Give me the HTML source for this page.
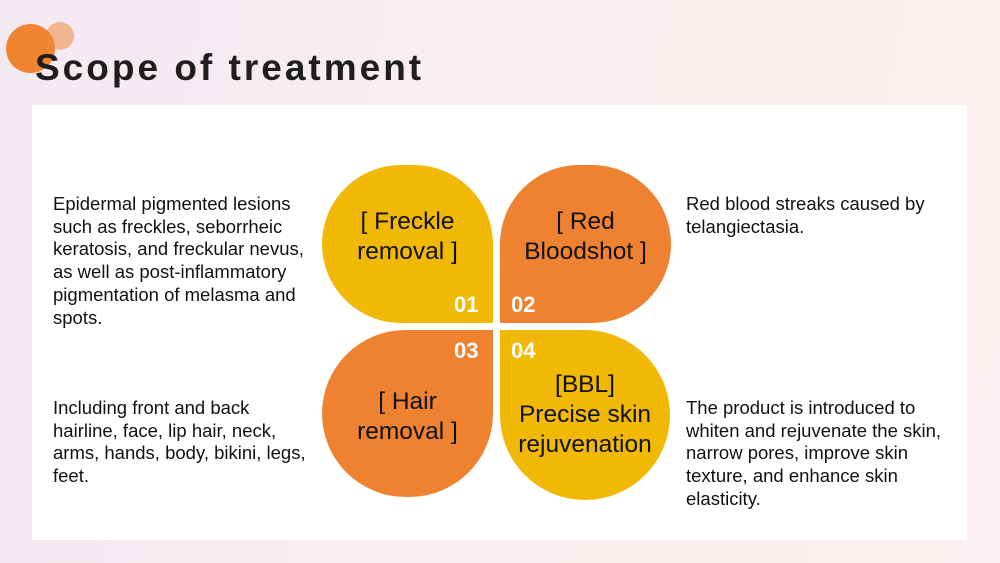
<!DOCTYPE html>
<html><head><meta charset="utf-8"><style>
*{margin:0;padding:0;box-sizing:border-box}
body{width:1000px;height:563px;overflow:hidden;position:relative;font-family:"Liberation Sans",Arial,sans-serif;
background:linear-gradient(100deg,#f3e9f1 0%,#f6eef2 40%,#f9eeee 65%,#f9f1f1 100%);}
.abs{position:absolute}
.c1{left:6px;top:24px;width:49px;height:49px;border-radius:50%;background:#ef8530}
.c2{left:46px;top:22px;width:28px;height:28px;border-radius:50%;background:#f2b592}
h1{position:absolute;left:35px;top:46px;font-size:37px;font-weight:bold;letter-spacing:3px;color:#1e1e1e;line-height:44px}
.panel{left:32px;top:105px;width:935px;height:435px;background:#fff}
.t{position:absolute;font-size:18.5px;line-height:22.7px;color:#111}
.p{position:absolute;width:171px;height:158px;display:flex;align-items:center;justify-content:center;text-align:center;font-size:24.5px;line-height:30px;color:#111}
.y{background:#f1b806}.o{background:#ef8230}
.n{position:absolute;color:#fff;font-weight:bold;font-size:22px}
</style></head><body>
<div class="abs c2"></div>
<div class="abs c1"></div>
<h1>Scope of treatment</h1>
<div class="abs panel"></div>
<div class="t" style="left:53px;top:193px;width:258px">Epidermal pigmented lesions such as freckles, seborrheic keratosis, and freckular nevus, as well as post-inflammatory pigmentation of melasma and spots.</div>
<div class="t" style="left:53px;top:397px;width:258px">Including front and back hairline, face, lip hair, neck, arms, hands, body, bikini, legs, feet.</div>
<div class="t" style="left:686px;top:193px;width:268px">Red blood streaks caused by telangiectasia.</div>
<div class="t" style="left:686px;top:397px;width:268px">The product is introduced to whiten and rejuvenate the skin, narrow pores, improve skin texture, and enhance skin elasticity.</div>

<div class="p y" style="left:322px;top:165px;border-radius:86px 86px 0 86px;padding-bottom:14px">[ Freckle<br>removal ]</div>
<div class="p o" style="left:500px;top:165px;border-radius:86px 86px 86px 0;padding-bottom:14px">[ Red<br>Bloodshot ]</div>
<div class="p o" style="left:322px;top:330px;height:167px;border-radius:86px 0 86px 86px;padding-top:6px">[ Hair<br>removal ]</div>
<div class="p y" style="left:500px;top:330px;width:170px;height:170px;border-radius:0 86px 86px 86px;padding-top:0">[BBL]<br>Precise skin<br>rejuvenation</div>

<div class="n" style="left:454px;top:292px">01</div>
<div class="n" style="left:511px;top:292px">02</div>
<div class="n" style="left:454px;top:338px">03</div>
<div class="n" style="left:511px;top:338px">04</div>
</body></html>
